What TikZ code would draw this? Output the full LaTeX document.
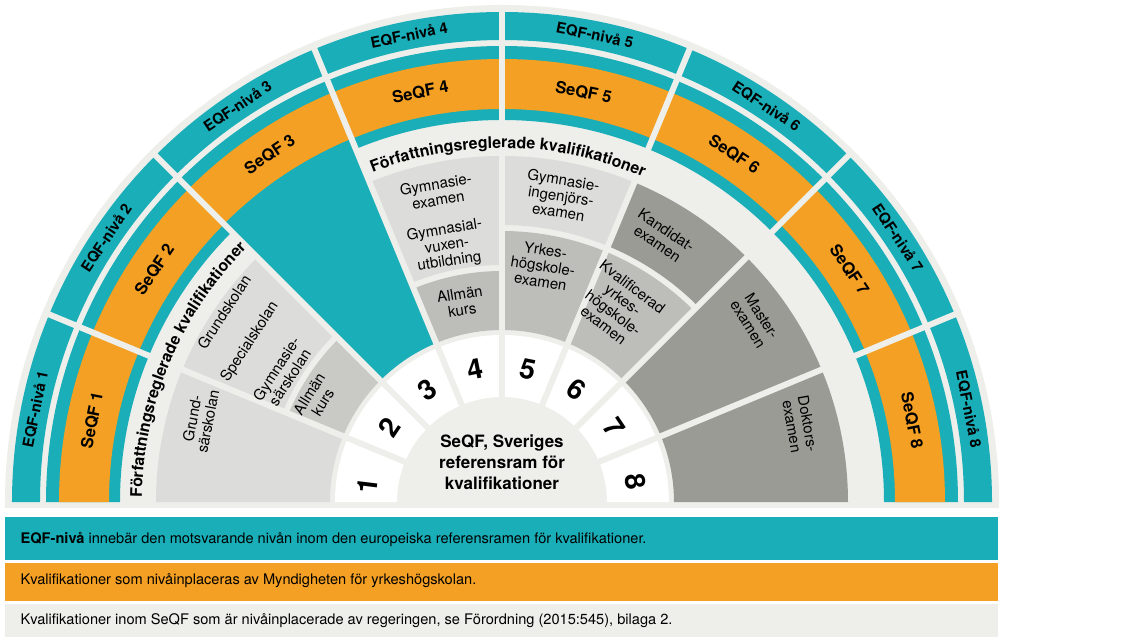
\documentclass[tikz,border=0pt]{standalone}
\usepackage{fontspec}
\setmainfont{TeX Gyre Heros}
\usetikzlibrary{%
  decorations.text,% curved labels
  positioning%
}

\definecolor{eqfteal}{RGB}{25,174,184}
\definecolor{seqforange}{RGB}{243,160,36}
\definecolor{ringgray}{RGB}{238,239,234}
\definecolor{celllight}{RGB}{220,220,218}
\definecolor{cellmid}{RGB}{201,201,197}
\definecolor{cellyh}{RGB}{189,189,185}
\definecolor{celldark}{RGB}{155,155,150}

% ring segment: colour, start angle, end angle, inner radius, outer radius
\newcommand{\ringpart}[5]{%
  \fill[#1] (#2:#4) arc[start angle=#2,end angle=#3,radius=#4]
    -- (#3:#5) arc[start angle=#3,end angle=#2,radius=#5] -- cycle;%
}

\begin{document}
\begin{tikzpicture}[
  x=1pt,y=1pt,
  eqflab/.style={font=\bfseries\fontsize{15}{15}\selectfont},
  seqflab/.style={font=\bfseries\fontsize{16.5}{16.5}\selectfont},
  numlab/.style={font=\bfseries\fontsize{28}{28}\selectfont},
  celltxt/.style={font=\fontsize{15}{16}\selectfont,align=center,inner sep=1pt},
  legendtxt/.style={font=\fontsize{14.6}{14.6}\selectfont,anchor=west},
  gapline/.style={draw=ringgray,line width=6pt},
]
\useasboundingbox (-502,-135) rectangle (637,502);

% background
\fill[ringgray] (-497,-6) rectangle (497,0);
\fill[ringgray] (-497,0) arc[start angle=180,end angle=0,radius=497] -- cycle;

% rings
\ringpart{eqfteal}{180}{0}{462}{490}
\ringpart{eqfteal}{180}{0}{382}{456}
\ringpart{seqforange}{180}{0}{393}{443}
\ringpart{white}{180}{0}{105}{167}

% cells
\ringpart{celllight}{180}{157.5}{172}{346}
\ringpart{celllight}{157.5}{135}{237}{346}
\ringpart{cellmid}{157.5}{135}{172}{231}
\ringpart{eqfteal}{135}{112.5}{172}{393}
\ringpart{celllight}{112.5}{90}{237}{346}
\ringpart{cellyh}{112.5}{90}{172}{231}
\ringpart{celllight}{90}{67.5}{277}{346}
\ringpart{cellyh}{90}{67.5}{172}{271}
\ringpart{celldark}{67.5}{45}{277}{346}
\ringpart{cellyh}{67.5}{45}{172}{271}
\ringpart{celldark}{45}{22.5}{172}{346}
\ringpart{celldark}{22.5}{0}{172}{346}

\foreach \i in {1,...,7} {
  \draw[gapline] (22.5*\i:100) -- (22.5*\i:491);
}

\foreach \i in {1,...,8} {
  \pgfmathsetmacro{\m}{191.25-22.5*\i}
  \node[eqflab,rotate=\m-90] (eqf\i) at (\m:476) {EQF-nivå \i};
  \node[seqflab,rotate=\m-90] (seqf\i) at (\m:418) {SeQF \i};
}

\foreach \i/\m in {1/173,2/146.25,3/123.75,4/101.25,5/78.75,6/56.25,7/33.75,8/8.5} {
  \node[numlab,rotate=\m-90] (num\i) at (\m:135) {\i};
}

\node[font=\bfseries\fontsize{17}{21}\selectfont,align=center] (core) at (0,40)
  {SeQF, Sveriges\\referensram för\\kvalifikationer};

\path[decorate,decoration={text along path,text align=center,
  text={|\bfseries\fontsize{16}{16}\selectfont|Författningsreglerade kvalifikationer}}]
  (190:360) arc[start angle=190,end angle=124.5,radius=360];
\path[decorate,decoration={text along path,text align=center,
  text={|\bfseries\fontsize{16}{16}\selectfont|Författningsreglerade kvalifikationer}}]
  (125:354) arc[start angle=125,end angle=53,radius=354];

% cell texts
\node[celltxt,rotate=79] (grsar) at (-302,82) {Grund-\\särskolan};
\node[celltxt,rotate=57] (grsk) at (-278,190) {Grundskolan};
\node[celltxt,rotate=57] (spsk) at (-252,160) {Specialskolan};
\node[celltxt,rotate=57] (gysar) at (-219,129) {Gymnasie-\\särskolan};
\node[celltxt,rotate=58] (allm2) at (-186,104) {Allmän\\kurs};
\node[celltxt,rotate=9] (gyex) at (-65,310) {Gymnasie-\\examen};
\node[celltxt,rotate=9] (gyvux) at (-55,256) {Gymnasial-\\vuxen-\\utbildning};
\node[celltxt,rotate=9] (allm4) at (-41,200) {Allmän\\kurs};
\node[celltxt,rotate=-9] (gying) at (59,306) {Gymnasie-\\ingenjörs-\\examen};
\node[celltxt,rotate=-9] (yhex) at (41,236) {Yrkes-\\högskole-\\examen};
\node[celltxt,rotate=-34] (kand) at (160,265) {Kandidat-\\examen};
\node[celltxt,rotate=-37] (kvyh) at (116,196) {Kvalificerad\\yrkes-\\högskole-\\examen};
\node[celltxt,rotate=-58] (mast) at (253,182) {Master-\\examen};
\node[celltxt,rotate=-80] (dokt) at (298,77) {Doktors-\\examen};

% legend
\fill[eqfteal] (-497,-15) rectangle (496,-58);
\fill[seqforange] (-497,-61) rectangle (496,-99);
\fill[ringgray] (-497,-102) rectangle (496,-135);
\node[legendtxt] (leg1) at (-485,-37)
  {\textbf{EQF-nivå} innebär den motsvarande nivån inom den europeiska referensramen för kvalifikationer.};
\node[legendtxt] (leg2) at (-485,-79)
  {Kvalifikationer som nivåinplaceras av Myndigheten för yrkeshögskolan.};
\node[legendtxt] (leg3) at (-485,-119)
  {Kvalifikationer inom SeQF som är nivåinplacerade av regeringen, se Förordning (2015:545), bilaga 2.};
\end{tikzpicture}
\end{document}
